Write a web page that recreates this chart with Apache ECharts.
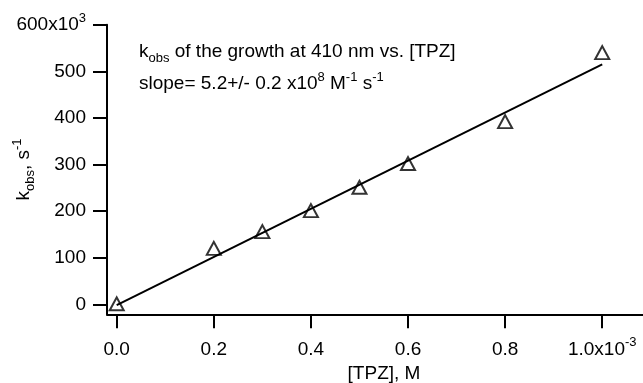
<!DOCTYPE html>
<html>
<head>
<meta charset="utf-8">
<script src="https://cdn.jsdelivr.net/npm/echarts@6/dist/echarts.min.js"></script>
<style>html,body{margin:0;padding:0;background:#fff}#c{width:643px;height:383px}</style>
</head>
<body>
<div id="c"></div>
<script>
// [TPZ] in units of 1e-3 M
var tpz = [0, 0.2, 0.3, 0.4, 0.5, 0.6, 0.8, 1.0];
// kobs in units of 1e3 s^-1
var kobs = [1, 120, 156, 201, 251, 302, 392, 540];
// linear fit endpoints
var fitX = [0, 1.0];
var fitY = [-2, 515];
var xTicks = [0, 0.2, 0.4, 0.6, 0.8, 1.0];
var yTicks = [0, 100, 200, 300, 400, 500, 600];
var titleLine1 = '{t|k}{sub|obs}{t| of the growth at 410 nm vs. [TPZ]}';
var titleLine2 = '{t|slope= 5.2+/- 0.2 x10}{sup|8}{t| M}{sup|-1}{t| s}{sup|-1}';

var FONT = 'Liberation Sans';
var rich = {
  t: {fontSize: 19, fontFamily: FONT, color: '#000', fontWeight: 'normal', lineHeight: 26},
  a: {fontSize: 19, fontFamily: FONT, color: '#000', fontWeight: 'normal', lineHeight: 26},
  sub: {fontSize: 13, fontFamily: FONT, color: '#000', fontWeight: 'normal', lineHeight: 26, verticalAlign: 'bottom'},
  sup: {fontSize: 13, fontFamily: FONT, color: '#000', fontWeight: 'normal', lineHeight: 26, verticalAlign: 'top'}
};

var chart = echarts.init(document.getElementById('c'), null, {renderer: 'canvas'});
chart.setOption({
  animation: false,
  backgroundColor: '#fff',
  title: [
    {text: titleLine1, left: 134, top: 34, textStyle: {rich: rich, fontWeight: 'normal'}},
    {text: titleLine2, left: 134, top: 66, textStyle: {rich: rich, fontWeight: 'normal'}}
  ],
  grid: {left: 107, right: 0, top: 24.7, bottom: 68.7, containLabel: false, outerBoundsMode: 'none'},
  xAxis: {
    type: 'value', min: -0.02, max: 1.084,
    splitLine: {show: false},
    axisLine: {onZero: false, lineStyle: {color: '#000', width: 2}},
    axisTick: {customValues: xTicks, length: 14, lineStyle: {color: '#000', width: 2}},
    axisLabel: {
      customValues: xTicks, margin: 22, color: '#000',
      formatter: function (v) { return v === 1 ? '{a|1.0x10}{sup|-3}' : '{a|' + v.toFixed(1) + '}'; },
      rich: rich
    },
    name: '{a|[TPZ], M}', nameLocation: 'middle', nameGap: 46, nameMoveOverlap: false,
    nameTextStyle: {rich: rich, padding: [0, 0, 0, 18]}
  },
  yAxis: {
    type: 'value', min: -21.5, max: 600,
    splitLine: {show: false},
    axisLine: {onZero: false, lineStyle: {color: '#000', width: 2}},
    axisTick: {customValues: yTicks, length: 14, lineStyle: {color: '#000', width: 2}},
    axisLabel: {
      customValues: yTicks, margin: 21, color: '#000',
      formatter: function (v) { return v === 600 ? '{a|600x10}{sup|3}' : '{a|' + v + '}'; },
      rich: rich
    },
    name: '{a|k}{sub|obs}{a|, s}{sup|-1}', nameLocation: 'middle', nameGap: 70, nameMoveOverlap: false,
    nameTextStyle: {rich: rich}
  },
  series: [
    {
      type: 'line', data: fitX.map(function (x, i) { return [x, fitY[i]]; }),
      showSymbol: false, symbol: 'none', lineStyle: {color: '#000', width: 2}, z: 2
    },
    {
      type: 'scatter', data: tpz.map(function (x, i) { return [x, kobs[i]]; }),
      symbol: 'triangle', symbolSize: [14, 13],
      itemStyle: {color: 'rgba(0,0,0,0)', borderColor: '#000', borderWidth: 2}, z: 3
    }
  ]
});
</script>
</body>
</html>
